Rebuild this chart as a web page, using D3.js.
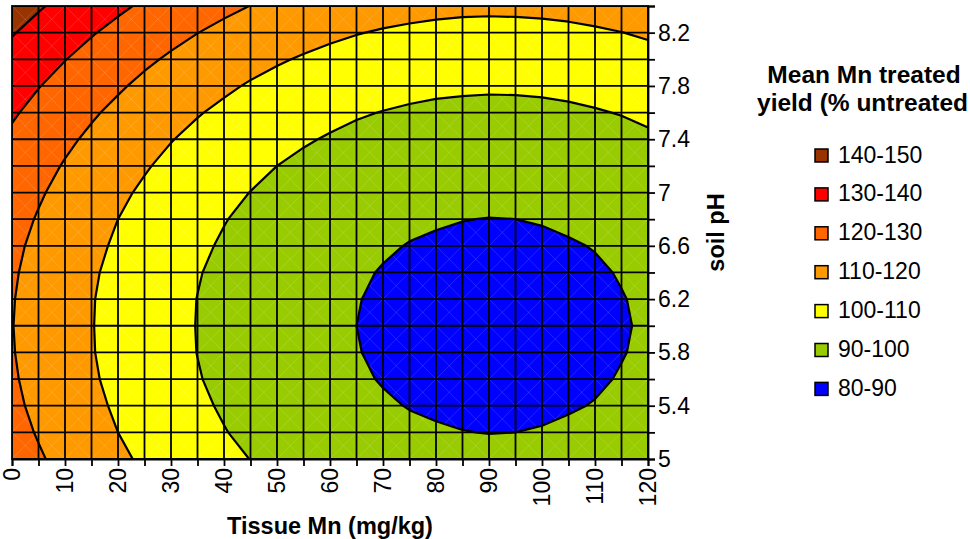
<!DOCTYPE html>
<html>
<head>
<meta charset="utf-8">
<script src="https://cdn.jsdelivr.net/npm/d3@7"></script>
<style>
  html, body { margin: 0; padding: 0; background: #ffffff; }
  svg { display: block; }
  text { font-family: "Liberation Sans", Arial, sans-serif; fill: #000; }
</style>
</head>
<body>
<svg id="chart" width="970" height="539"></svg>
<script>
// ---- Data ----
const tissueMn = [0, 5, 10, 15, 20, 25, 30, 35, 40, 45, 50, 55, 60, 65, 70, 75, 80, 85, 90, 95, 100, 105, 110, 115, 120];
const soilPH = [5.0, 5.2, 5.4, 5.6, 5.8, 6.0, 6.2, 6.4, 6.6, 6.8, 7.0, 7.2, 7.4, 7.6, 7.8, 8.0, 8.2, 8.4];

// Mean Mn treated yield (% untreated), one row per soil pH, one value per tissue Mn
const yield_pH50 = [124.4, 120.9, 117.6, 114.5, 111.5, 108.8, 106.3, 104.0, 101.8, 99.9, 98.2, 96.7, 95.3, 94.2, 93.3, 92.5, 92.0, 91.6, 91.5, 91.6, 91.8, 92.3, 92.9, 93.8, 94.8];
const yield_pH52 = [122.9, 119.4, 116.1, 113.0, 110.0, 107.3, 104.8, 102.5, 100.3, 98.4, 96.7, 95.1, 93.8, 92.7, 91.7, 91.0, 90.5, 90.1, 89.9, 90.0, 90.3, 90.8, 91.4, 92.3, 93.3];
const yield_pH54 = [121.7, 118.2, 114.9, 111.8, 108.9, 106.1, 103.6, 101.3, 99.2, 97.2, 95.5, 94.0, 92.6, 91.5, 90.6, 89.8, 89.3, 89.0, 88.8, 88.9, 89.1, 89.6, 90.2, 91.1, 92.2];
const yield_pH56 = [120.9, 117.4, 114.1, 110.9, 108.0, 105.3, 102.8, 100.4, 98.3, 96.4, 94.7, 93.1, 91.8, 90.7, 89.7, 89.0, 88.5, 88.1, 88.0, 88.0, 88.3, 88.8, 89.4, 90.3, 91.3];
const yield_pH58 = [120.4, 116.9, 113.6, 110.4, 107.5, 104.8, 102.3, 99.9, 97.8, 95.9, 94.2, 92.6, 91.3, 90.2, 89.2, 88.5, 88.0, 87.6, 87.5, 87.5, 87.8, 88.3, 88.9, 89.8, 90.8];
const yield_pH60 = [120.2, 116.7, 113.4, 110.3, 107.3, 104.6, 102.1, 99.8, 97.6, 95.7, 94.0, 92.5, 91.1, 90.0, 89.0, 88.3, 87.8, 87.4, 87.3, 87.4, 87.6, 88.1, 88.7, 89.6, 90.6];
const yield_pH62 = [120.4, 116.9, 113.6, 110.4, 107.5, 104.8, 102.3, 99.9, 97.8, 95.9, 94.2, 92.6, 91.3, 90.2, 89.2, 88.5, 88.0, 87.6, 87.5, 87.5, 87.8, 88.3, 88.9, 89.8, 90.8];
const yield_pH64 = [120.9, 117.4, 114.1, 110.9, 108.0, 105.3, 102.8, 100.4, 98.3, 96.4, 94.7, 93.1, 91.8, 90.7, 89.7, 89.0, 88.5, 88.1, 88.0, 88.0, 88.3, 88.8, 89.4, 90.3, 91.3];
const yield_pH66 = [121.7, 118.2, 114.9, 111.8, 108.9, 106.1, 103.6, 101.3, 99.2, 97.2, 95.5, 94.0, 92.6, 91.5, 90.6, 89.8, 89.3, 89.0, 88.8, 88.9, 89.1, 89.6, 90.2, 91.1, 92.2];
const yield_pH68 = [122.9, 119.4, 116.1, 113.0, 110.0, 107.3, 104.8, 102.5, 100.3, 98.4, 96.7, 95.1, 93.8, 92.7, 91.7, 91.0, 90.5, 90.1, 89.9, 90.0, 90.3, 90.8, 91.4, 92.3, 93.3];
const yield_pH70 = [124.4, 120.9, 117.6, 114.5, 111.5, 108.8, 106.3, 104.0, 101.8, 99.9, 98.2, 96.7, 95.3, 94.2, 93.3, 92.5, 92.0, 91.6, 91.5, 91.6, 91.8, 92.3, 92.9, 93.8, 94.8];
const yield_pH72 = [126.3, 122.8, 119.4, 116.3, 113.4, 110.7, 108.1, 105.8, 103.7, 101.8, 100.0, 98.5, 97.2, 96.0, 95.1, 94.4, 93.8, 93.5, 93.4, 93.4, 93.7, 94.1, 94.8, 95.6, 96.7];
const yield_pH74 = [128.5, 124.9, 121.6, 118.5, 115.6, 112.9, 110.3, 108.0, 105.9, 103.9, 102.2, 100.7, 99.4, 98.2, 97.3, 96.6, 96.0, 95.7, 95.5, 95.6, 95.9, 96.3, 97.0, 97.8, 98.9];
const yield_pH76 = [131.0, 127.5, 124.1, 121.0, 118.1, 115.4, 112.8, 110.5, 108.4, 106.5, 104.7, 103.2, 101.9, 100.7, 99.8, 99.1, 98.5, 98.2, 98.1, 98.1, 98.4, 98.8, 99.5, 100.3, 101.4];
const yield_pH78 = [133.8, 130.3, 127.0, 123.9, 121.0, 118.2, 115.7, 113.4, 111.3, 109.3, 107.6, 106.1, 104.7, 103.6, 102.7, 101.9, 101.4, 101.1, 100.9, 101.0, 101.2, 101.7, 102.3, 103.2, 104.3];
const yield_pH80 = [137.0, 133.5, 130.2, 127.1, 124.1, 121.4, 118.9, 116.6, 114.4, 112.5, 110.8, 109.3, 107.9, 106.8, 105.9, 105.1, 104.6, 104.2, 104.1, 104.2, 104.4, 104.9, 105.5, 106.4, 107.4];
const yield_pH82 = [140.6, 137.0, 133.7, 130.6, 127.7, 125.0, 122.4, 120.1, 118.0, 116.0, 114.3, 112.8, 111.5, 110.3, 109.4, 108.7, 108.1, 107.8, 107.6, 107.7, 108.0, 108.4, 109.1, 109.9, 111.0];
const yield_pH84 = [144.4, 140.9, 137.6, 134.5, 131.5, 128.8, 126.3, 124.0, 121.8, 119.9, 118.2, 116.6, 115.3, 114.2, 113.2, 112.5, 112.0, 111.6, 111.5, 111.6, 111.8, 112.3, 112.9, 113.8, 114.8];

const yieldRows = [yield_pH50, yield_pH52, yield_pH54, yield_pH56, yield_pH58, yield_pH60, yield_pH62, yield_pH64, yield_pH66,
                   yield_pH68, yield_pH70, yield_pH72, yield_pH74, yield_pH76, yield_pH78, yield_pH80, yield_pH82, yield_pH84];

const bandThresholds = [80, 90, 100, 110, 120, 130, 140];
const bandColors = ["#0000FF", "#99CC00", "#FFFF00", "#FF9900", "#FF6600", "#FF0000", "#993300"];
const legendLabels = ["140-150", "130-140", "120-130", "110-120", "100-110", "90-100", "80-90"];
const legendColors = ["#993300", "#FF0000", "#FF6600", "#FF9900", "#FFFF00", "#99CC00", "#0000FF"];
const xTickLabels = [0, 10, 20, 30, 40, 50, 60, 70, 80, 90, 100, 110, 120];
const yTickLabels = [5, 5.4, 5.8, 6.2, 6.6, 7, 7.4, 7.8, 8.2];

// ---- Layout ----
const svg = d3.select("#chart");
const plot = { left: 12, right: 648, top: 6, bottom: 459 };
const FS = 23;

const x = d3.scaleLinear().domain([0, 120]).range([plot.left, plot.right]);
const y = d3.scaleLinear().domain([5, 8.4]).range([plot.bottom, plot.top]);

const nx = tissueMn.length, ny = soilPH.length;
const ix = d3.scaleLinear().domain([0, nx - 1]).range([tissueMn[0], tissueMn[nx - 1]]);
const iy = d3.scaleLinear().domain([0, ny - 1]).range([soilPH[0], soilPH[ny - 1]]);

svg.append("rect").attr("width", 970).attr("height", 539).attr("fill", "#fff");

svg.append("clipPath").attr("id", "plotClip")
  .append("rect")
  .attr("x", plot.left).attr("y", plot.top)
  .attr("width", plot.right - plot.left).attr("height", plot.bottom - plot.top);

const values = [];
yieldRows.forEach(row => row.forEach(v => values.push(v)));

const contours = d3.contours().size([nx, ny]).thresholds(bandThresholds)(values);

const proj = d3.geoTransform({
  point: function (cx, cy) {
    this.stream.point(x(ix(cx - 0.5)), y(iy(cy - 0.5)));
  }
});
const path = d3.geoPath(proj);

const g = svg.append("g").attr("clip-path", "url(#plotClip)");

// filled bands
g.selectAll("path.band")
  .data(contours)
  .join("path")
  .attr("class", "band")
  .attr("d", path)
  .attr("fill", (d, i) => bandColors[i])
  .attr("stroke", "none");

// faint cell diagonals
const diag = g.append("g").attr("stroke", "#ffffff").attr("stroke-opacity", 0.2).attr("stroke-width", 0.7);
for (let i = 0; i < nx - 1; i++) {
  for (let j = 0; j < ny - 1; j++) {
    diag.append("line")
      .attr("x1", x(tissueMn[i])).attr("y1", y(soilPH[j]))
      .attr("x2", x(tissueMn[i + 1])).attr("y2", y(soilPH[j + 1]));
    diag.append("line")
      .attr("x1", x(tissueMn[i + 1])).attr("y1", y(soilPH[j]))
      .attr("x2", x(tissueMn[i])).attr("y2", y(soilPH[j + 1]));
  }
}

// grid
const grid = g.append("g").attr("stroke", "#000").attr("stroke-width", 1.8);
tissueMn.forEach(v => {
  grid.append("line").attr("x1", x(v)).attr("x2", x(v)).attr("y1", plot.top).attr("y2", plot.bottom);
});
soilPH.forEach(v => {
  grid.append("line").attr("y1", y(v)).attr("y2", y(v)).attr("x1", plot.left).attr("x2", plot.right);
});

// contour lines
g.selectAll("path.cline")
  .data(contours.slice(1))
  .join("path")
  .attr("class", "cline")
  .attr("d", path)
  .attr("fill", "none")
  .attr("stroke", "#000")
  .attr("stroke-width", 2.2)
  .attr("stroke-linejoin", "round");

// plot border
svg.append("rect")
  .attr("x", plot.left).attr("y", plot.top)
  .attr("width", plot.right - plot.left).attr("height", plot.bottom - plot.top)
  .attr("fill", "none").attr("stroke", "#000").attr("stroke-width", 1.8);

// ---- X axis ----
const xAxis = d3.axisBottom(x).tickValues(tissueMn).tickSize(7).tickFormat("");
const xa = svg.append("g").attr("transform", `translate(0,${plot.bottom})`).call(xAxis);
xa.select(".domain").attr("stroke", "#000").attr("stroke-width", 1.8);
xa.selectAll(".tick line").attr("stroke", "#000").attr("stroke-width", 1.8);

svg.append("g").selectAll("text")
  .data(xTickLabels)
  .join("text")
  .attr("transform", d => `translate(${x(d) + 8},${plot.bottom + 9}) rotate(-90)`)
  .attr("text-anchor", "end")
  .attr("font-size", FS)
  .text(d => d);

svg.append("text")
  .attr("x", (plot.left + plot.right) / 2)
  .attr("y", 534)
  .attr("text-anchor", "middle")
  .attr("font-size", 23.5)
  .attr("font-weight", "bold")
  .text("Tissue Mn (mg/kg)");

// ---- Y axis (right) ----
const yAxis = d3.axisRight(y).tickValues(soilPH).tickSize(7).tickFormat("");
const ya = svg.append("g").attr("transform", `translate(${plot.right},0)`).call(yAxis);
ya.select(".domain").attr("stroke", "#000").attr("stroke-width", 1.8);
ya.selectAll(".tick line").attr("stroke", "#000").attr("stroke-width", 1.8);

svg.append("g").selectAll("text")
  .data(yTickLabels)
  .join("text")
  .attr("x", plot.right + 10)
  .attr("y", d => y(d) + 8)
  .attr("font-size", FS)
  .text(d => d);

svg.append("text")
  .attr("transform", `translate(724,${(plot.top + plot.bottom) / 2}) rotate(-90)`)
  .attr("text-anchor", "middle")
  .attr("font-size", 23.5)
  .attr("font-weight", "bold")
  .text("soil pH");

// ---- Legend ----
svg.append("text").attr("x", 864).attr("y", 83).attr("text-anchor", "middle")
  .attr("font-size", 24.5).attr("font-weight", "bold").text("Mean Mn treated");
svg.append("text").attr("x", 757).attr("y", 111).attr("text-anchor", "start")
  .attr("font-size", 24.5).attr("font-weight", "bold").text("yield (% untreated");

const lg = svg.append("g").selectAll("g")
  .data(legendLabels)
  .join("g")
  .attr("transform", (d, i) => `translate(815,${149 + i * 38.9})`);
lg.append("rect").attr("width", 13).attr("height", 13)
  .attr("fill", (d, i) => legendColors[i]).attr("stroke", "#000").attr("stroke-width", 1.5);
lg.append("text").attr("x", 23).attr("y", 13.5).attr("font-size", FS).text(d => d);
</script>
</body>
</html>
